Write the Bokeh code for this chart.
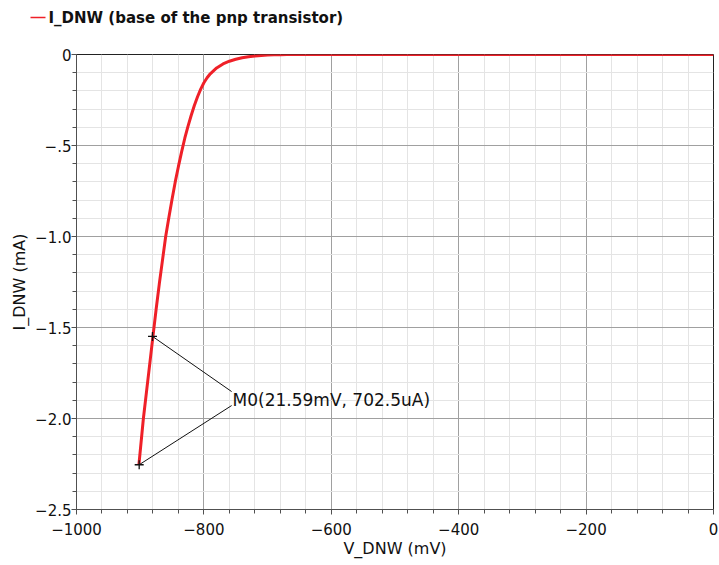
from bokeh.plotting import figure
from bokeh.layouts import column
from bokeh.models import Range1d, FixedTicker, ColumnDataSource
from bokeh.core.properties import value
from bokeh.embed import file_html
from bokeh.resources import INLINE

# ---- data ----
v_dnw = [-902, -895, -890, -885, -880, -875, -870, -865, -860, -855, -850, -845,
         -840, -835, -830, -825, -820, -815, -810, -805, -800, -795, -790, -780,
         -770, -760, -750, -740, -730, -720, -710, -700, -690, -680, -670,
         -600, -400, -200, 0]
i_dnw = [-2.254, -2.00, -1.85, -1.70, -1.549, -1.40, -1.26, -1.13, -1.00, -0.895, -0.795, -0.70,
         -0.615, -0.535, -0.46, -0.395, -0.335, -0.28, -0.232, -0.19, -0.155, -0.128, -0.106, -0.074,
         -0.052, -0.037, -0.026, -0.018, -0.012, -0.008, -0.005, -0.003, -0.0015, -0.0007, 0.0,
         0.0, 0.0, 0.0, 0.0]

series_name = "I_DNW (base of the pnp transistor)"

marker_x = [-880.7, -901.6]
marker_y = [-1.549, -2.254]
label_x = [-756.5, -756.5]
label_y = [-1.852, -1.929]
label_text = "M0(21.59mV, 702.5uA)"
label_pos = (-755.0, -1.896)

x_ticks = [-1000, -800, -600, -400, -200, 0]
x_tick_labels = ["\u22121000", "\u2212800", "\u2212600", "\u2212400", "\u2212200", "0"]
y_ticks = [0, -0.5, -1.0, -1.5, -2.0, -2.5]
y_tick_labels = ["0", "\u2212.5", "\u22121.0", "\u22121.5", "\u22122.0", "\u22122.5"]
x_minor = [-1000 + 40 * k for k in range(26)]
y_minor = [round(-0.1 * k, 2) for k in range(26)]

FONT = "DejaVu Sans"
RED = "#ef2028"

# ---- legend strip (top) ----
TOP_H = 44
top = figure(width=719, height=TOP_H, output_backend="svg", toolbar_location=None,
             x_range=Range1d(0, 719), y_range=Range1d(TOP_H, 0),
             x_axis_location=None, y_axis_location=None,
             min_border_left=0, min_border_right=0, min_border_top=0, min_border_bottom=0)
top.frame_align = False
top.grid.visible = False
top.outline_line_color = None
top.background_fill_color = "white"
top.border_fill_color = "white"
top.line(x=[30, 45], y=[17, 17], line_color=RED, line_width=1.5)
top.text(x=[48], y=[17], text=[series_name], text_font=value(FONT), text_font_size="15px",
         text_font_style="bold", text_align="left", text_baseline="middle", text_color="#111111")

# ---- main plot ----
p = figure(width=719, height=565 - TOP_H, output_backend="svg", toolbar_location=None,
           x_range=Range1d(-1000, 0), y_range=Range1d(-2.5, 0),
           min_border_left=76, min_border_right=6, min_border_top=54 - TOP_H, min_border_bottom=56)
p.frame_align = False
p.background_fill_color = "white"
p.border_fill_color = "white"
p.outline_line_color = "#222222"
p.outline_line_width = 1

for ax, ticks, minor, labels in ((p.xaxis[0], x_ticks, x_minor, x_tick_labels),
                                 (p.yaxis[0], y_ticks, y_minor, y_tick_labels)):
    ax.ticker = FixedTicker(ticks=ticks, minor_ticks=minor)
    ax.major_label_overrides = {t: l for t, l in zip(ticks, labels)}
    ax.axis_line_color = "#505050"
    ax.major_tick_line_color = "#505050"
    ax.minor_tick_line_color = "#505050"
    ax.major_tick_in = 0
    ax.major_tick_out = 5
    ax.minor_tick_in = 0
    ax.minor_tick_out = 4
    ax.major_label_text_font = FONT
    ax.major_label_text_font_size = "15px"
    ax.major_label_text_color = "#111111"
    ax.axis_label_text_font = FONT
    ax.axis_label_text_font_size = "16px"
    ax.axis_label_text_font_style = "normal"
    ax.axis_label_text_color = "#111111"

p.xaxis.axis_label = "V_DNW (mV)"
p.yaxis.axis_label = "I_DNW (mA)"
p.xaxis.major_label_standoff = 8
p.xaxis.axis_label_standoff = 1
p.yaxis.major_label_standoff = 0
p.yaxis.axis_label_standoff = 3

for g in (p.xgrid[0], p.ygrid[0]):
    g.grid_line_color = "#a0a0a0"
    g.grid_line_width = 1
    g.minor_grid_line_color = "#e4e4e4"
    g.minor_grid_line_width = 1
p.xgrid.ticker = FixedTicker(ticks=x_ticks, minor_ticks=x_minor)
p.ygrid.ticker = FixedTicker(ticks=y_ticks, minor_ticks=y_minor)

src = ColumnDataSource(dict(x=v_dnw, y=i_dnw))
p.line("x", "y", source=src, line_color=RED, line_width=3)

p.segment(x0=marker_x, y0=marker_y, x1=label_x, y1=label_y, line_color="#111111", line_width=1)
p.scatter(x=marker_x, y=marker_y, marker="cross", size=9, line_color="#111111", line_width=1.3)
p.text(x=[label_pos[0]], y=[label_pos[1]], text=[label_text], text_font=value(FONT),
       text_font_size="17px", text_align="left", text_baseline="middle", text_color="#111111")

layout = column(top, p, spacing=0)
open("out.html", "w").write(file_html(layout, INLINE))
